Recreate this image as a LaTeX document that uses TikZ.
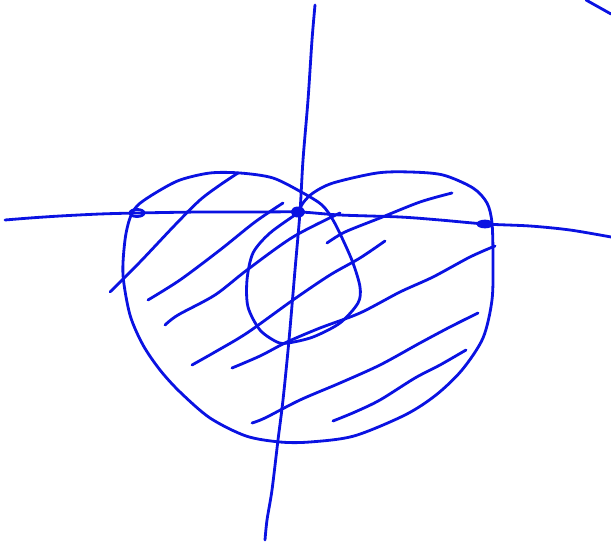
\documentclass[tikz,border=0pt]{standalone}
\usepackage{tikz}
\definecolor{ink}{HTML}{0A12E2}

\begin{document}
\begin{tikzpicture}[x=0.03cm, y=-0.03cm,
    pen/.style={ink, line width=2.4pt, line cap=round, line join=round},
    hatch/.style={pen},
    blob/.style={pen, fill=ink}
  ]
    \useasboundingbox (0,0) rectangle (611,542);

    % axes, drawn in pixel units of the sketch
    \draw[pen] plot[smooth] coordinates {(5,220) (30,218) (60,216) (100,214) (137,213)
      (200,212) (260,212) (300,212) (340,215) (400,217) (440,220) (485,224)
      (530,226) (570,230) (611,237)};
    \draw[pen] plot[smooth] coordinates {(315,5) (312,40) (308,100) (303,160) (300,212)
      (295,270) (289,340) (283,400) (278,440) (272,490) (267,520) (265,540)};
    \draw[pen] (586,0) -- (611,14);

    \coordinate (pl) at (137,213);
    \coordinate (pm) at (298,212);
    \coordinate (pr) at (485,224);

    % heart outline with the inner loop
    \draw[pen] plot[smooth] coordinates {(298,213) (303,203) (313,193) (333,183)
      (377,173) (410,172) (443,175) (473,188) (487,203) (492,223) (493,260)
      (492,300) (483,338) (462,370) (436,395) (405,415) (354,436) (310,442) (280,442)
      (246,436) (210,418) (180,392) (160,370) (143,345) (130,315) (123,275) (125,240)
      (130,218) (138,205) (157,192) (180,180) (210,173) (240,173) (273,178)
      (303,193) (322,205) (333,220) (343,240) (353,263) (360,287) (358,303)
      (340,323) (313,337) (288,343) (277,342) (260,330) (248,307) (247,280)
      (253,253) (270,233) (298,213)};

    % hatching
    \draw[hatch] plot[smooth] coordinates {(110,292) (140,262) (175,225) (200,200) (220,185) (238,173)};
    \draw[hatch] plot[smooth] coordinates {(148,300) (180,280) (220,250) (255,222) (283,203)};
    \draw[hatch] plot[smooth] coordinates {(165,325) (178,315) (215,295) (247,270) (293,237) (340,213)};
    \draw[hatch] plot[smooth] coordinates {(327,243) (345,232) (380,218) (420,202) (452,193)};
    \draw[hatch] plot[smooth] coordinates {(192,365) (215,352) (247,333) (293,300) (330,275) (360,258) (385,241)};
    \draw[hatch] plot[smooth] coordinates {(232,368) (260,356) (287,342) (320,328) (360,313)
      (400,292) (433,277) (470,257) (495,246)};
    \draw[hatch] plot[smooth] coordinates {(252,423) (265,418) (300,400) (340,383) (380,365)
      (420,343) (450,327) (478,313)};
    \draw[hatch] plot[smooth] coordinates {(333,421) (355,412) (380,400) (415,378) (440,365) (466,350)};

    % marked points
    \draw[pen] (pl) ellipse [x radius=6pt, y radius=3pt];
    \draw[blob] (pm) ellipse [x radius=5pt, y radius=3.5pt];
    \draw[blob] (pr) ellipse [x radius=6pt, y radius=2.5pt];
  \end{tikzpicture}
\end{document}
